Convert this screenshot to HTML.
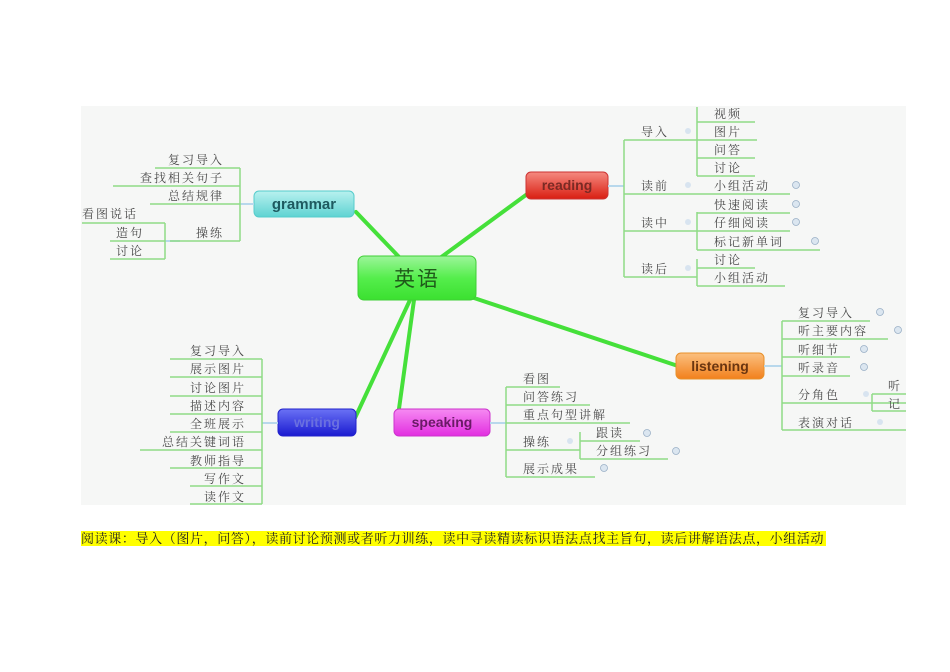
<!DOCTYPE html>
<html><head><meta charset="utf-8"><style>
html,body{margin:0;padding:0;background:#fff;width:950px;height:672px;overflow:hidden}
svg{position:absolute;left:0;top:0}
.cap{position:absolute;left:81px;top:531px;height:15px;line-height:15px;background:#ffff00;font-family:"Liberation Serif","Noto Serif CJK SC",serif;font-size:13px;letter-spacing:0.63px;color:#222;white-space:nowrap;padding-right:2px}
</style></head><body>
<svg width="950" height="672" viewBox="0 0 950 672" xmlns="http://www.w3.org/2000/svg">
<defs>
<linearGradient id="gG" x1="0" y1="0" x2="0" y2="1"><stop offset="0" stop-color="#9cf59a"/><stop offset="0.5" stop-color="#55ee4c"/><stop offset="1" stop-color="#3be030"/></linearGradient>
<linearGradient id="gC" x1="0" y1="0" x2="0" y2="1"><stop offset="0" stop-color="#b8f1ef"/><stop offset="1" stop-color="#5fd3d2"/></linearGradient>
<linearGradient id="gR" x1="0" y1="0" x2="0" y2="1"><stop offset="0" stop-color="#f58a80"/><stop offset="1" stop-color="#d91e12"/></linearGradient>
<linearGradient id="gO" x1="0" y1="0" x2="0" y2="1"><stop offset="0" stop-color="#fbc080"/><stop offset="1" stop-color="#f2801c"/></linearGradient>
<linearGradient id="gB" x1="0" y1="0" x2="0" y2="1"><stop offset="0" stop-color="#6a72f5"/><stop offset="1" stop-color="#1a1ad0"/></linearGradient>
<linearGradient id="gM" x1="0" y1="0" x2="0" y2="1"><stop offset="0" stop-color="#f68af2"/><stop offset="1" stop-color="#e22ee0"/></linearGradient>
</defs>
<rect x="81" y="106" width="825" height="399" fill="#f6f7f6"/>
<g stroke="#45e03a" stroke-width="4" stroke-linecap="round" fill="none">
<line x1="400" y1="258" x2="356" y2="212"/>
<line x1="440" y1="258" x2="530" y2="192"/>
<line x1="474" y1="298" x2="678" y2="366"/>
<line x1="410" y1="300" x2="355" y2="418"/>
<line x1="414" y1="300" x2="398" y2="416"/>
</g>
<rect x="358" y="256" width="118" height="44" rx="6" fill="url(#gG)" stroke="#3fcf35"/>
<text x="417" y="286" text-anchor="middle" font-family="Liberation Sans,'Noto Sans CJK SC',sans-serif" font-size="21" fill="#1f5a1a" letter-spacing="2">英语</text>
<rect x="254" y="191" width="100" height="26" rx="5" fill="url(#gC)" stroke="#5cc"/>
<text x="304" y="209" text-anchor="middle" font-family="Liberation Sans,sans-serif" font-size="15" fill="#1e5a60" font-weight="bold">grammar</text>
<rect x="526" y="172" width="82" height="27" rx="5" fill="url(#gR)" stroke="#c33"/>
<text x="567" y="190" text-anchor="middle" font-family="Liberation Sans,sans-serif" font-size="14" fill="#7a2a24" font-weight="bold">reading</text>
<rect x="676" y="353" width="88" height="26" rx="5" fill="url(#gO)" stroke="#e8902a"/>
<text x="720" y="371" text-anchor="middle" font-family="Liberation Sans,sans-serif" font-size="14" fill="#6a3510" font-weight="bold">listening</text>
<rect x="278" y="409" width="78" height="27" rx="5" fill="url(#gB)" stroke="#22c"/>
<text x="317" y="427" text-anchor="middle" font-family="Liberation Sans,sans-serif" font-size="14" fill="#6a70e0" font-weight="bold">writing</text>
<rect x="394" y="409" width="96" height="27" rx="5" fill="url(#gM)" stroke="#c3c"/>
<text x="442" y="427" text-anchor="middle" font-family="Liberation Sans,sans-serif" font-size="14" fill="#6a1a66" font-weight="bold">speaking</text>
<g stroke="#b8d8ec" stroke-width="2">
<line x1="240" y1="204" x2="254" y2="204"/><line x1="165" y1="241" x2="180" y2="241"/>
<line x1="608" y1="186" x2="624" y2="186"/><line x1="764" y1="366" x2="782" y2="366"/>
<line x1="262" y1="423" x2="278" y2="423"/><line x1="490" y1="423" x2="506" y2="423"/>
</g>
<g stroke="#8fdc86" stroke-width="1.5" fill="none">
<path d="M155 168H240M113 186H240M150 204H240M170 241H240M240 168V241"/>
<path d="M82 223H165M110 241H165M110 259H165M165 223V259"/>
<path d="M624 140V277M624 140H697M624 194H790M624 231H697M624 277H697"/>
<path d="M697 107V176M697 122H755M697 140H757M697 158H755M697 176H755"/>
<path d="M697 213H790M697 212V250M697 231H790M697 250H820"/>
<path d="M697 268H755M697 259V286M697 286H785"/>
<path d="M782 321V430M782 321H870M782 339H888M782 357H850M782 376H850M782 403H906M782 430H906"/>
<path d="M872 394V411M872 394H906M872 411H906"/>
<path d="M506 387V477M506 387H560M506 405H590M506 423H630M506 450H580M506 477H595"/>
<path d="M580 432V459M580 441H640M580 459H668"/>
<path d="M262 359V504M170 359H262M170 377H262M170 396H262M170 414H262M170 432H262M140 450H262M170 468H262M190 486H262M190 504H262"/>
</g>
<g font-family="Liberation Serif,'Noto Serif CJK SC',serif" font-size="12" fill="#4a4a4a" letter-spacing="2">
<g text-anchor="end">
<text x="224" y="164">复习导入</text><text x="224" y="182">查找相关句子</text><text x="224" y="200">总结规律</text><text x="224" y="237">操练</text>
<text x="246" y="355">复习导入</text><text x="246" y="373">展示图片</text><text x="246" y="392">讨论图片</text><text x="246" y="410">描述内容</text><text x="246" y="428">全班展示</text><text x="246" y="446">总结关键词语</text><text x="246" y="465">教师指导</text><text x="246" y="483">写作文</text><text x="246" y="501">读作文</text>
</g>
<text x="82" y="218">看图说话</text><text x="116" y="237">造句</text><text x="116" y="255">讨论</text>
<text x="641" y="136">导入</text><text x="641" y="190">读前</text><text x="641" y="227">读中</text><text x="641" y="273">读后</text>
<text x="714" y="118">视频</text><text x="714" y="136">图片</text><text x="714" y="154">问答</text><text x="714" y="172">讨论</text>
<text x="714" y="190">小组活动</text><text x="714" y="209">快速阅读</text><text x="714" y="227">仔细阅读</text><text x="714" y="246">标记新单词</text>
<text x="714" y="264">讨论</text><text x="714" y="282">小组活动</text>
<text x="798" y="317">复习导入</text><text x="798" y="335">听主要内容</text><text x="798" y="354">听细节</text><text x="798" y="372">听录音</text><text x="798" y="399">分角色</text><text x="798" y="427">表演对话</text>
<text x="888" y="390">听</text><text x="888" y="408">记</text>
<text x="523" y="383">看图</text><text x="523" y="401">问答练习</text><text x="523" y="419">重点句型讲解</text><text x="523" y="446">操练</text><text x="523" y="473">展示成果</text>
<text x="596" y="437">跟读</text><text x="596" y="455">分组练习</text>
</g>
<g fill="#dbe6f0" stroke="#9ab0c6" stroke-width="0.8">
<circle cx="796" cy="185" r="3.5"/><circle cx="796" cy="204" r="3.5"/><circle cx="796" cy="222" r="3.5"/><circle cx="815" cy="241" r="3.5"/>
<circle cx="880" cy="312" r="3.5"/><circle cx="898" cy="330" r="3.5"/><circle cx="864" cy="349" r="3.5"/><circle cx="864" cy="367" r="3.5"/>
<circle cx="647" cy="433" r="3.5"/><circle cx="676" cy="451" r="3.5"/><circle cx="604" cy="468" r="3.5"/>
</g>
<g fill="#d8e4f0">
<circle cx="688" cy="131" r="3"/><circle cx="688" cy="185" r="3"/><circle cx="688" cy="222" r="3"/><circle cx="688" cy="268" r="3"/>
<circle cx="866" cy="394" r="3"/><circle cx="880" cy="422" r="3"/><circle cx="570" cy="441" r="3"/>
</g>
</svg>
<div class="cap">阅读课：导入（图片，问答），读前讨论预测或者听力训练，读中寻读精读标识语法点找主旨句，读后讲解语法点，小组活动</div>
</body></html>
